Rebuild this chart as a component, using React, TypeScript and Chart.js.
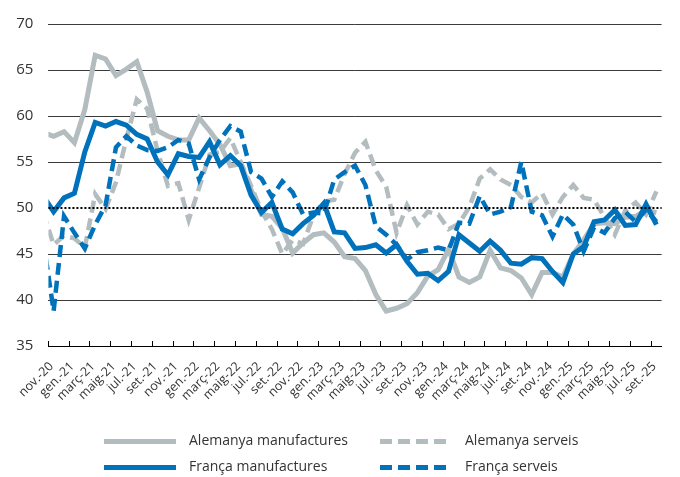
import React, { useEffect, useRef } from "react";
import { Chart, registerables } from "chart.js";

Chart.register(...registerables);

// Monthly PMI series, oct.-20 ... set.-25 (oct.-20 lies just left of the axis start)
const firstMonthOffset = -1;

const tickLabels = [
  "nov.-20", "gen.-21", "març-21", "maig-21", "jul.-21", "set.-21",
  "nov.-21", "gen.-22", "març-22", "maig-22", "jul.-22", "set.-22",
  "nov.-22", "gen.-23", "març-23", "maig-23", "jul.-23", "set.-23",
  "nov.-23", "gen.-24", "març-24", "maig-24", "jul.-24", "set.-24",
  "nov.-24", "gen.-25", "març-25", "maig-25", "jul.-25", "set.-25",
];

const alemanyaManufactures = [
  58.2, 57.8, 58.3,
  57.1, 60.7, 66.6, 66.2, 64.4, 65.1, 65.9, 62.6, 58.4, 57.8, 57.4, 57.4,
  59.8, 58.4, 56.9, 54.6, 54.8, 52.0, 49.3, 49.1, 47.8, 45.1, 46.2, 47.1,
  47.3, 46.3, 44.7, 44.5, 43.2, 40.6, 38.8, 39.1, 39.6, 40.8, 42.6, 43.3,
  45.5, 42.5, 41.9, 42.5, 45.4, 43.5, 43.2, 42.4, 40.6, 43.0, 43.0, 42.5,
  45.0, 46.5, 48.3, 48.4, 48.3, 49.0, 49.1, 49.8, 49.5,
];

const alemanyaServeis = [
  49.5, 46.0, 47.0,
  46.7, 45.7, 51.5, 49.9, 52.8, 57.5, 61.8, 60.8, 56.2, 52.4, 52.7, 48.7,
  52.2, 55.8, 56.1, 57.6, 55.0, 52.4, 49.7, 47.7, 45.0, 46.5, 46.1, 49.2,
  50.7, 50.9, 53.7, 56.0, 57.2, 54.1, 52.3, 47.3, 50.3, 48.2, 49.6, 49.3,
  47.7, 48.3, 50.1, 53.2, 54.2, 53.1, 52.5, 51.2, 50.6, 51.6, 49.3, 51.2,
  52.5, 51.1, 50.9, 49.0, 47.1, 49.7, 50.6, 49.3, 51.8,
];

const francaManufactures = [
  51.3, 49.6, 51.1,
  51.6, 56.1, 59.3, 58.9, 59.4, 59.0, 58.0, 57.5, 55.0, 53.6, 55.9, 55.6,
  55.5, 57.2, 54.7, 55.7, 54.6, 51.4, 49.5, 50.6, 47.7, 47.2, 48.3, 49.2,
  50.5, 47.4, 47.3, 45.6, 45.7, 46.0, 45.1, 46.0, 44.2, 42.8, 42.9, 42.1,
  43.1, 47.1, 46.2, 45.3, 46.4, 45.4, 44.0, 43.9, 44.6, 44.5, 43.1, 41.9,
  45.0, 45.8, 48.5, 48.7, 49.8, 48.1, 48.2, 50.4, 48.2,
];

const francaServeis = [
  46.5, 38.8, 49.1,
  47.3, 45.6, 48.2, 50.3, 56.6, 57.8, 56.8, 56.3, 56.2, 56.6, 57.4, 57.0,
  53.1, 55.5, 57.4, 58.9, 58.3, 53.9, 53.2, 51.2, 52.9, 51.7, 49.3, 49.5,
  49.4, 53.1, 53.9, 54.6, 52.5, 48.0, 47.1, 46.0, 44.4, 45.2, 45.4, 45.7,
  45.4, 48.4, 48.3, 51.3, 49.3, 49.6, 50.1, 55.0, 49.6, 49.2, 46.9, 49.3,
  48.2, 45.3, 47.9, 47.3, 48.9, 49.6, 48.5, 49.8, 48.5,
];

const seriesNames = [
  "Alemanya manufactures",
  "Alemanya serveis",
  "França manufactures",
  "França serveis",
];

const yTicks = { min: 35, max: 70, step: 5 };
const referenceLevel = 50;

const GRAY = "#b3bcbf";
const BLUE = "#0072bc";
const TEXT = "#333333";
const FONT = "'Open Sans', sans-serif";
const DASH = [12, 6];

function toPoints(values: number[]) {
  return values.map((y, i) => ({ x: i + firstMonthOffset, y }));
}

const referenceLinePlugin = {
  id: "referenceLine",
  afterDatasetsDraw(chart: any) {
    const { ctx, chartArea } = chart;
    const y = Math.round(chart.scales.y.getPixelForValue(referenceLevel));
    ctx.save();
    ctx.strokeStyle = "#000";
    ctx.lineWidth = 2;
    ctx.setLineDash([2, 2]);
    ctx.beginPath();
    ctx.moveTo(chartArea.left, y);
    ctx.lineTo(chartArea.right, y);
    ctx.stroke();
    ctx.restore();
  },
};

const legendLayout = { columns: [104, 380], rows: [441.5, 467.5], sample: 72, gap: 13 };

const legendPlugin = {
  id: "gridLegend",
  afterDraw(chart: any) {
    const { ctx } = chart;
    ctx.save();
    ctx.font = `14px ${FONT}`;
    ctx.textBaseline = "middle";
    ctx.textAlign = "left";
    chart.data.datasets.forEach((ds: any, i: number) => {
      const x = legendLayout.columns[i % 2];
      const y = legendLayout.rows[Math.floor(i / 2)];
      ctx.strokeStyle = ds.borderColor;
      ctx.lineWidth = 5;
      ctx.lineCap = "butt";
      ctx.setLineDash(ds.borderDash || []);
      ctx.beginPath();
      ctx.moveTo(x, y);
      ctx.lineTo(x + legendLayout.sample, y);
      ctx.stroke();
      ctx.setLineDash([]);
      ctx.fillStyle = TEXT;
      ctx.fillText(ds.label, x + legendLayout.sample + legendLayout.gap, y);
    });
    ctx.restore();
  },
};

export default function App() {
  const canvasRef = useRef<HTMLCanvasElement | null>(null);

  useEffect(() => {
    document.body.style.margin = "0";
    const canvas = canvasRef.current;
    if (!canvas) return;
    const values = [alemanyaManufactures, alemanyaServeis, francaManufactures, francaServeis];
    const colors = [GRAY, GRAY, BLUE, BLUE];
    const dashed = [false, true, false, true];

    const chart = new Chart(canvas, {
      type: "line",
      data: {
        datasets: values.map((v, i) => ({
          label: seriesNames[i],
          data: toPoints(v),
          borderColor: colors[i],
          backgroundColor: colors[i],
          borderWidth: dashed[i] ? 4.5 : 5,
          borderDash: dashed[i] ? DASH : [],
          pointRadius: 0,
          tension: 0,
          clip: 0,
          order: 4 - i,
        })),
      },
      options: {
        animation: false,
        responsive: false,
        devicePixelRatio: 1,
        layout: { padding: { top: 18, right: 11, left: 0, bottom: 0 } },
        plugins: {
          legend: { display: false },
          tooltip: { enabled: false },
        },
        scales: {
          x: {
            type: "linear",
            min: -0.5,
            max: 58.5,
            afterBuildTicks: (scale: any) => {
              scale.ticks = tickLabels.map((_, k) => ({ value: -0.5 + 2 * k }));
            },
            afterFit: (scale: any) => {
              scale.height = 131;
            },
            ticks: {
              autoSkip: false,
              minRotation: 45,
              maxRotation: 45,
              padding: 18,
              labelOffset: 3,
              color: TEXT,
              font: { family: FONT, size: 12.5 },
              callback: (value: any) => tickLabels[Math.round((Number(value) + 0.5) / 2)] ?? "",
            },
            grid: {
              drawOnChartArea: false,
              drawTicks: true,
              tickLength: -5,
              color: "#000",
              lineWidth: 1,
            },
            border: { display: true, color: "#000", width: 1 },
          },
          y: {
            min: yTicks.min,
            max: yTicks.max,
            afterFit: (scale: any) => {
              scale.width = 48;
            },
            ticks: {
              stepSize: yTicks.step,
              padding: 15,
              color: TEXT,
              font: { family: FONT, size: 15 },
            },
            grid: {
              drawTicks: false,
              lineWidth: 1,
              color: (c: any) =>
                c.tick && (c.tick.value === referenceLevel || c.tick.value === yTicks.min)
                  ? "rgba(0,0,0,0)"
                  : "#3a3a3a",
            },
            border: { display: false },
          },
        },
      },
      plugins: [referenceLinePlugin, legendPlugin],
    });

    return () => chart.destroy();
  }, []);

  return (
    <div style={{ width: 680, height: 477 }}>
      <canvas ref={canvasRef} width={680} height={477} />
    </div>
  );
}
